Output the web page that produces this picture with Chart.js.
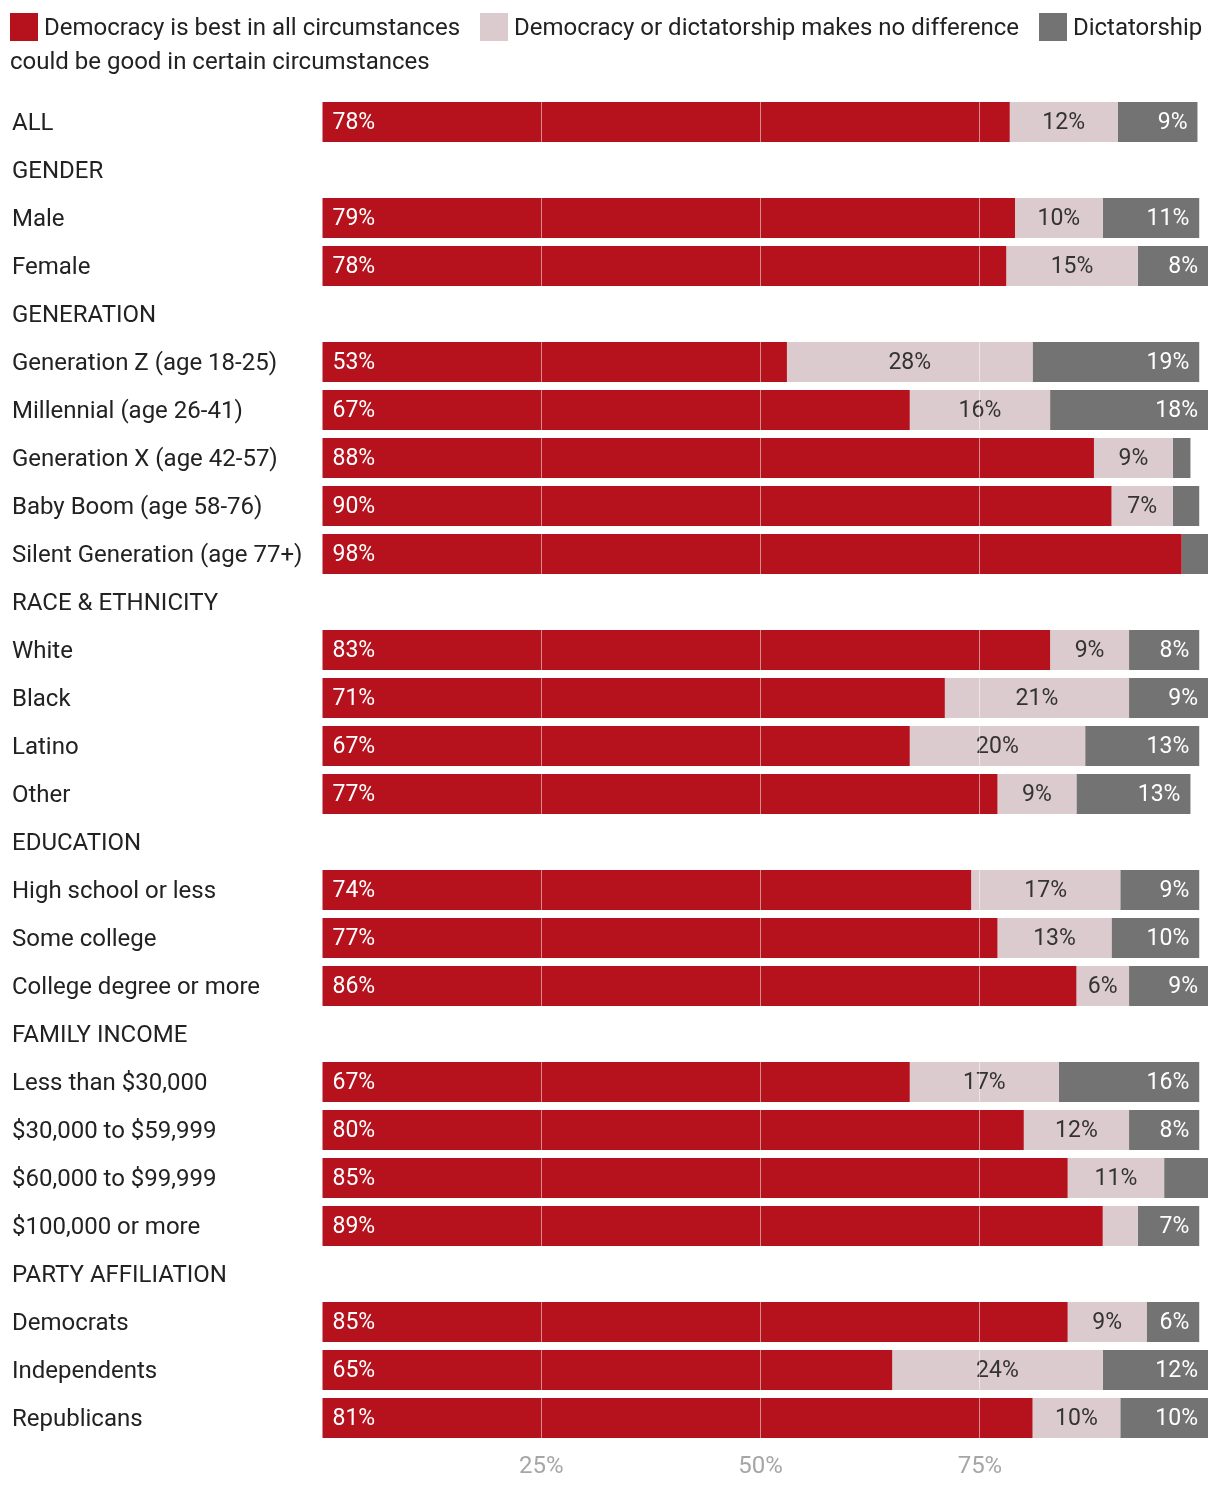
<!DOCTYPE html>
<html>
<head>
<meta charset="utf-8">
<script src="https://cdn.jsdelivr.net/npm/chart.js@4"></script>
<style>
  html, body { margin: 0; padding: 0; background: #fff; }
  body { width: 1220px; height: 1486px; position: relative; overflow: hidden; font-family: Roboto, sans-serif; }
  #legend { position: absolute; left: 10px; top: 10px; width: 1205px; font-size: 24px; line-height: 34px; color: #222; z-index: 2; }
  #legend .sw { display: inline-block; width: 28px; height: 28px; vertical-align: -6px; margin-right: 6px; }
  #legend .item { margin-right: 14px; }
  #wrap { position: absolute; left: 0; top: 0; width: 1220px; height: 1486px; }
</style>
</head>
<body>
<div id="legend"></div>
<div id="wrap"><canvas id="c" width="1220" height="1486"></canvas></div>
<script>
const categories = ['ALL','GENDER','Male','Female','GENERATION','Generation Z (age 18-25)','Millennial (age 26-41)','Generation X (age 42-57)','Baby Boom (age 58-76)','Silent Generation (age 77+)','RACE & ETHNICITY','White','Black','Latino','Other','EDUCATION','High school or less','Some college','College degree or more','FAMILY INCOME','Less than $30,000','$30,000 to $59,999','$60,000 to $99,999','$100,000 or more','PARTY AFFILIATION','Democrats','Independents','Republicans'];
const seriesNames = ['Democracy is best in all circumstances','Democracy or dictatorship makes no difference','Dictatorship could be good in certain circumstances'];
const democracyBest = [78.4,null,79,78,null,53,67,88,90,98,null,83,71,67,77,null,74,77,86,null,67,80,85,89,null,85,65,81];
const noDifference  = [12.3,null,10,15,null,28,16,9,7,0,null,9,21,20,9,null,17,13,6,null,17,12,11,4,null,9,24,10];
const dictatorship  = [9.1,null,11,8,null,19,18,2,3,3,null,8,9,13,13,null,9,10,9,null,16,8,5,7,null,6,12,10];
const tickLabels = {25:'25%',50:'50%',75:'75%'};
const colors = ['#b5121d','#dccbce','#737373'];

// HTML legend
const leg = document.getElementById('legend');
seriesNames.forEach((n,i)=>{
  const s = document.createElement('span');
  s.className = 'item';
  s.innerHTML = '<span class="sw" style="background:'+colors[i]+'"></span>' + n;
  leg.appendChild(s);
  leg.appendChild(document.createTextNode(' '));
});

const FONT = 'Roboto, sans-serif';

const labelPlugin = {
  id: 'barLabels',
  afterDatasetsDraw(chart) {
    const ctx = chart.ctx;
    ctx.save();
    ctx.font = '23px ' + FONT;
    ctx.textBaseline = 'middle';
    chart.data.datasets.forEach((ds, di) => {
      const meta = chart.getDatasetMeta(di);
      meta.data.forEach((el, i) => {
        const v = ds.data[i];
        if (v == null || v < 5.5) return;
        const txt = Math.round(v) + '%';
        const {x, y, base} = el.getProps(['x','y','base'], true);
        if (di === 0) {
          ctx.fillStyle = '#ffffff'; ctx.textAlign = 'left';
          ctx.fillText(txt, base + 10, y + 1);
        } else if (di === 1) {
          ctx.fillStyle = '#333333'; ctx.textAlign = 'center';
          ctx.fillText(txt, (x + base) / 2, y + 1);
        } else {
          ctx.fillStyle = '#ffffff'; ctx.textAlign = 'right';
          ctx.fillText(txt, x - 10, y + 1);
        }
      });
    });
    ctx.restore();
  }
};

Chart.defaults.font.family = FONT;

new Chart(document.getElementById('c'), {
  type: 'bar',
  data: {
    labels: categories,
    datasets: [
      { label: seriesNames[0], data: democracyBest, backgroundColor: colors[0] },
      { label: seriesNames[1], data: noDifference, backgroundColor: colors[1] },
      { label: seriesNames[2], data: dictatorship, backgroundColor: colors[2] }
    ]
  },
  options: {
    indexAxis: 'y',
    responsive: false,
    animation: false,
    events: [],
    datasets: { bar: { categoryPercentage: 1, barPercentage: 40/48 } },
    layout: { padding: { top: 98, left: 12, right: 12, bottom: 0 } },
    plugins: { legend: { display: false }, tooltip: { enabled: false } },
    scales: {
      x: {
        stacked: true,
        min: 0, max: 101,
        afterFit(s) { s.height = 44; },
        afterBuildTicks(s) { s.ticks = [0,25,50,75,100].map(v => ({value: v})); },
        border: { display: false },
        grid: {
          z: 1,
          drawTicks: false,
          lineWidth: 1,
          color: (c) => (c.tick && tickLabels[c.tick.value]) ? 'rgba(255,255,255,0.5)' : 'rgba(0,0,0,0)'
        },
        ticks: {
          padding: 11,
          color: '#a6a6a6',
          font: { size: 24, family: FONT },
          maxRotation: 0,
          autoSkip: false,
          callback: (v) => tickLabels[v] || ''
        }
      },
      y: {
        stacked: true,
        afterFit(s) { s.width = 310; },
        border: { display: false },
        grid: { display: false, drawTicks: false },
        ticks: {
          crossAlign: 'far',
          color: '#222222',
          font: { size: 24, family: FONT },
          autoSkip: false,
          padding: 0,
          labelOffset: 2
        }
      }
    }
  },
  plugins: [labelPlugin]
});
</script>
</body>
</html>
